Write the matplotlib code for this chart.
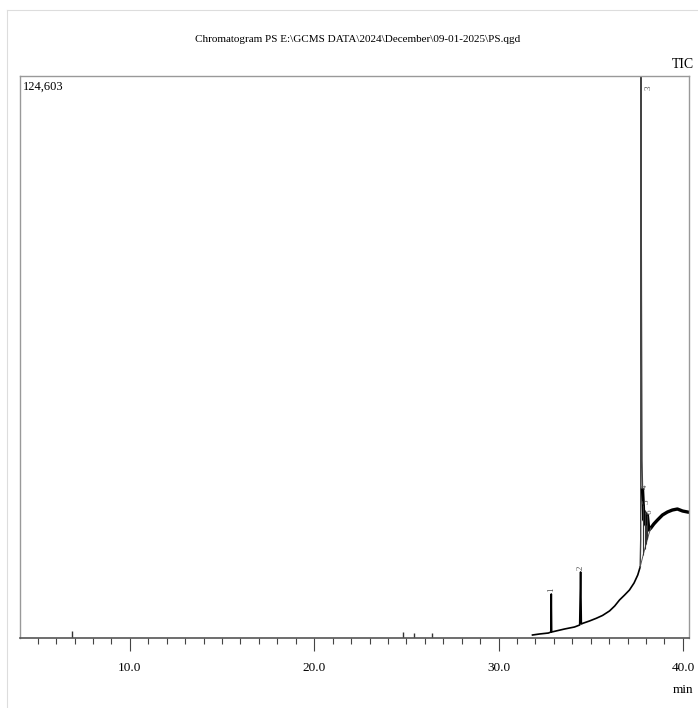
import matplotlib
matplotlib.use('Agg')
import matplotlib.pyplot as plt
from matplotlib.ticker import MultipleLocator, FixedLocator
import numpy as np

plt.rcParams['font.family'] = ['Liberation Serif', 'DejaVu Serif']

titulo = 'Chromatogram PS E:\\GCMS DATA\\2024\\December\\09-01-2025\\PS.qgd'
max_int = 124603

# TIC trace (min, counts)
tempo = [31.84, 32.22, 32.71, 32.84, 32.86, 32.88, 33.58, 34.12, 34.40, 34.45,
         34.49, 34.57, 34.93, 35.30, 35.64, 36.02, 36.30, 36.56, 36.83, 37.10,
         37.35, 37.55, 37.68, 37.71, 37.72, 37.75, 37.78, 37.81, 37.85, 37.88,
         37.93, 37.99, 38.07, 38.15, 38.26, 38.42, 38.62, 38.89, 39.16, 39.43,
         39.70, 39.98, 40.25]
intens = [665, 887, 1108, 1330, 9755, 1330, 1995, 2439, 2882, 14632,
          3100, 3259, 3769, 4367, 5000, 6000, 7100, 8425, 9500, 10642,
          12200, 13967, 15741, 21727, 126000, 74935, 39463, 32812, 29486, 26161,
          27935, 25052, 27270, 23944, 24388, 25274, 26161, 27270, 27935, 28378,
          28600, 28156, 27935]
i_pico3 = 24

# peak labels
picos = ['1', '2', '3', '4', '5', '6']
pico_t = [32.86, 34.45, 38.12, 37.92, 38.04, 38.22]
pico_y = [10200, 15100, 122000, 33500, 30300, 28100]

# small peak marks near the baseline
marcas_t = [6.84, 24.82, 25.41, 26.39]
marcas_y = [1600, 1300, 1000, 1200]

# integration baseline / drop lines under peaks 4-6
base_t = [37.68, 37.85, 38.00, 38.15, 38.26]
base_y = [15741, 18500, 20800, 23000, 24388]
queda_t = [37.85, 37.93, 38.00, 38.07]
queda_top = [29486, 27935, 25052, 27270]
queda_bot = [18500, 19700, 20800, 21900]

fig = plt.figure(figsize=(6.98, 7.08), dpi=100)
ax = fig.add_axes([20/698, 70/708, 669/698, 562/708])

t = np.array(tempo)
y = np.array(intens)
ax.plot(t[:i_pico3 - 1], y[:i_pico3 - 1], color='black', lw=1.2)
ax.plot(t[i_pico3 - 2:i_pico3 + 4], y[i_pico3 - 2:i_pico3 + 4], color='#444444', lw=1.0)
ax.plot(t[i_pico3 + 3:], y[i_pico3 + 3:], color='black', lw=2.4)

ax.plot(base_t, base_y, color='#555555', lw=0.7)
ax.vlines(queda_t, queda_bot, queda_top, color='#333333', lw=0.8)
ax.vlines(marcas_t, 0, marcas_y, color='#333333', lw=1.0)

for lab, px, py in zip(picos, pico_t, pico_y):
    ax.text(px, py, lab, rotation=90, fontsize=6.5, color='#555555',
            ha='center', va='bottom' if lab in ('1', '2') else 'center')

ax.set_xlim(4.04, 40.33)
ax.set_ylim(0, max_int)
ax.xaxis.set_major_locator(FixedLocator([10, 20, 30, 40]))
ax.xaxis.set_minor_locator(MultipleLocator(1.0))
ax.set_xticklabels(['10.0', '20.0', '30.0', '40.0'])
ax.tick_params(axis='x', which='major', length=9, width=0.8, color='#444444',
               labelsize=9.5, pad=8)
ax.tick_params(axis='x', which='minor', length=4, width=0.8, color='#444444')
ax.set_yticks([])

for s in ['top', 'right', 'left']:
    ax.spines[s].set_color('#999999')
    ax.spines[s].set_linewidth(1.0)
ax.spines['bottom'].set_color('#555555')
ax.spines['bottom'].set_linewidth(1.2)

ax.text(0.004, 0.992, '{:,}'.format(max_int), transform=ax.transAxes,
        fontsize=9, va='top', ha='left')
fig.text(358/698, 1 - 40/708, titulo, fontsize=8, ha='center', va='center')
fig.text(683/698, 1 - 64/708, 'TIC', fontsize=10, ha='center', va='center')
fig.text(683/698, 1 - 690/708, 'min', fontsize=9.5, ha='center', va='center')

# faint border of the screenshot
fig.add_artist(plt.Line2D([7/698, 7/698], [0, 1 - 10/708], color='#dddddd', lw=0.8))
fig.add_artist(plt.Line2D([7/698, 1], [1 - 10/708, 1 - 10/708], color='#dddddd', lw=0.8))

fig.savefig('out.png', dpi=100)
